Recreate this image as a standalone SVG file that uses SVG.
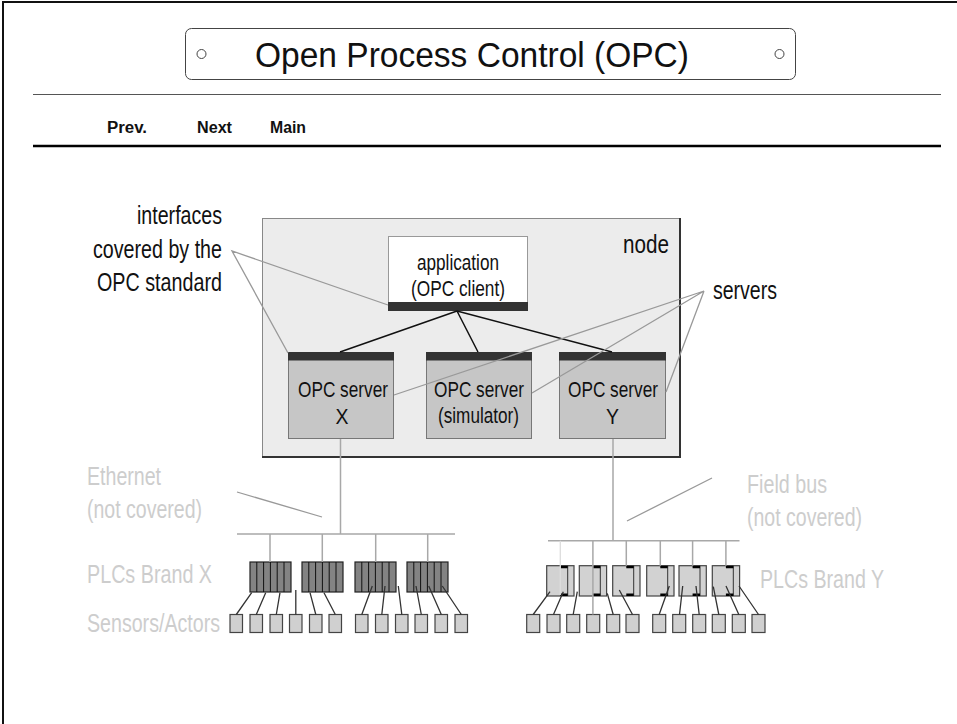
<svg xmlns="http://www.w3.org/2000/svg" width="957" height="724" viewBox="0 0 957 724">
<style>
text{font-family:"Liberation Sans",Arial,sans-serif}
.lbl{font-size:26px;fill:#111}
.lt{font-size:26px;fill:#cdcdcd}
.box{font-size:22px;fill:#111}
.nav{font-size:16px;font-weight:bold;fill:#111}
.ptr{stroke:#999;stroke-width:1.3;fill:none}
.wire{stroke:#111;stroke-width:1.5;fill:none}
.bus{stroke:#a8a8a8;stroke-width:1.5;fill:none}
.sl{stroke:#333;stroke-width:1.3;fill:none}
.sen{fill:#d0d0d0;stroke:#444;stroke-width:1.2}
.plcx{fill:#838383;stroke:#222;stroke-width:1.2}
.plcy{fill:#d2d2d2;stroke:#444;stroke-width:1.2}
.srv{fill:#c6c6c6;stroke:#777;stroke-width:1}
.bar{fill:#333}
</style>
<rect width="957" height="724" fill="#fff"/>
<g id="frame">
<line x1="3" y1="2" x2="957" y2="2" stroke="#111" stroke-width="2"/>
<line x1="3" y1="1" x2="3" y2="724" stroke="#111" stroke-width="2"/>
</g>
<g id="title">
<rect x="185.5" y="28.5" width="610" height="51" rx="6" fill="#fff" stroke="#444" stroke-width="1"/>
<circle cx="201.5" cy="54" r="4.5" fill="#fff" stroke="#444" stroke-width="1"/>
<circle cx="779.5" cy="54" r="4.5" fill="#fff" stroke="#444" stroke-width="1"/>
<text x="472" y="67" font-size="35" text-anchor="middle" fill="#111" textLength="434" lengthAdjust="spacingAndGlyphs">Open Process Control (OPC)</text>
</g>
<g id="navbar">
<line x1="33" y1="94.5" x2="941" y2="94.5" stroke="#555" stroke-width="1"/>
<line x1="33" y1="146" x2="941" y2="146" stroke="#000" stroke-width="2.5"/>
<text class="nav" x="107" y="133" font-size="17" textLength="40" lengthAdjust="spacingAndGlyphs">Prev.</text>
<text class="nav" x="197" y="133" font-size="17" textLength="35" lengthAdjust="spacingAndGlyphs">Next</text>
<text class="nav" x="270" y="133" font-size="17" textLength="36" lengthAdjust="spacingAndGlyphs">Main</text>
</g>
<g id="node">
<rect x="262.5" y="218.5" width="417" height="238" fill="#ececec" stroke="#888" stroke-width="1"/>
<polyline points="680,218 680,457 262,457" fill="none" stroke="#333" stroke-width="2"/>
<text class="lbl" x="623" y="253" font-size="28" textLength="46" lengthAdjust="spacingAndGlyphs">node</text>
</g>
<g id="application">
<rect x="388.5" y="236.5" width="139" height="74" fill="#fff" stroke="#999" stroke-width="1"/>
<rect class="bar" x="388" y="302" width="140" height="9"/>
<text class="box" x="458" y="270" text-anchor="middle" textLength="82" lengthAdjust="spacingAndGlyphs">application</text>
<text class="box" x="458" y="296" text-anchor="middle" textLength="94" lengthAdjust="spacingAndGlyphs">(OPC client)</text>
</g>
<g id="server-x">
<rect class="srv" x="288.5" y="352.5" width="105" height="86"/>
<rect class="bar" x="288" y="352" width="106" height="8.5"/>
<text class="box" x="343" y="397" text-anchor="middle" textLength="90" lengthAdjust="spacingAndGlyphs">OPC server</text>
<text class="box" x="342" y="424" text-anchor="middle" textLength="13" lengthAdjust="spacingAndGlyphs">X</text>
</g>
<g id="server-sim">
<rect class="srv" x="426.5" y="352.5" width="105" height="86"/>
<rect class="bar" x="426" y="352" width="106" height="8.5"/>
<text class="box" x="479" y="397" text-anchor="middle" textLength="90" lengthAdjust="spacingAndGlyphs">OPC server</text>
<text class="box" x="478.5" y="423" text-anchor="middle" textLength="81" lengthAdjust="spacingAndGlyphs">(simulator)</text>
</g>
<g id="server-y">
<rect class="srv" x="559.5" y="352.5" width="106" height="86"/>
<rect class="bar" x="559" y="352" width="107" height="8.5"/>
<text class="box" x="613" y="397" text-anchor="middle" textLength="90" lengthAdjust="spacingAndGlyphs">OPC server</text>
<text class="box" x="612.5" y="424" text-anchor="middle" textLength="13" lengthAdjust="spacingAndGlyphs">Y</text>
</g>
<g id="labels">
<text class="lbl" x="222" y="224" text-anchor="end" textLength="85" lengthAdjust="spacingAndGlyphs">interfaces</text>
<text class="lbl" x="222" y="258" text-anchor="end" textLength="129" lengthAdjust="spacingAndGlyphs">covered by the</text>
<text class="lbl" x="222" y="291" text-anchor="end" textLength="125" lengthAdjust="spacingAndGlyphs">OPC standard</text>
<text class="lbl" x="713" y="299" textLength="64" lengthAdjust="spacingAndGlyphs">servers</text>
<text class="lt" x="87" y="485" textLength="74" lengthAdjust="spacingAndGlyphs">Ethernet</text>
<text class="lt" x="87" y="518" textLength="115" lengthAdjust="spacingAndGlyphs">(not covered)</text>
<text class="lt" x="747" y="493" textLength="80" lengthAdjust="spacingAndGlyphs">Field bus</text>
<text class="lt" x="747" y="526" textLength="115" lengthAdjust="spacingAndGlyphs">(not covered)</text>
<text class="lt" x="87" y="583" font-size="28" textLength="125" lengthAdjust="spacingAndGlyphs">PLCs Brand X</text>
<text class="lt" x="760" y="588" font-size="28" textLength="124" lengthAdjust="spacingAndGlyphs">PLCs Brand Y</text>
<text class="lt" x="87" y="632" textLength="133" lengthAdjust="spacingAndGlyphs">Sensors/Actors</text>
</g>
<g id="plcs-x">
<g class="plcx">
<rect x="250" y="562" width="41" height="30"/>
<rect x="302" y="562" width="41" height="30"/>
<rect x="355" y="562" width="41" height="30"/>
<rect x="407" y="562" width="41" height="30"/>
</g>
<path stroke="#111" stroke-width="1" d="M256.8 562v30M263.6 562v30M270.4 562v30M277.2 562v30M284 562v30M308.8 562v30M315.6 562v30M322.4 562v30M329.2 562v30M336 562v30M361.8 562v30M368.6 562v30M375.4 562v30M382.2 562v30M389 562v30M413.8 562v30M420.6 562v30M427.4 562v30M434.2 562v30M441 562v30"/>
</g>
<g id="plcs-y">
<g class="plcy">
<rect x="546.7" y="565.7" width="27.3" height="30.3"/>
<rect x="579.3" y="565.7" width="27.3" height="30.3"/>
<rect x="612.7" y="565.7" width="27.3" height="30.3"/>
<rect x="646.7" y="565.7" width="27.3" height="30.3"/>
<rect x="679" y="565.7" width="27.3" height="30.3"/>
<rect x="712.3" y="565.7" width="27.3" height="30.3"/>
</g>
<path fill="none" stroke="#333" stroke-width="1" d="M567.7 565.7v30.3M600.3 565.7v30.3M633.7 565.7v30.3M667.7 565.7v30.3M700 565.7v30.3M733.3 565.7v30.3"/>
<path fill="none" stroke="#000" stroke-width="2.5" d="M560.3 567h7.4M560.3 594.7h7.4M592.9 567h7.4M592.9 594.7h7.4M626.3 567h7.4M626.3 594.7h7.4M660.3 567h7.4M660.3 594.7h7.4M692.6 567h7.4M692.6 594.7h7.4M725.9 567h7.4M725.9 594.7h7.4"/>
</g>
<g id="sensors-x" class="sen">
<rect x="230" y="614.5" width="12.5" height="18"/>
<rect x="250" y="614.5" width="12.5" height="18"/>
<rect x="270" y="614.5" width="12.5" height="18"/>
<rect x="289.5" y="614.5" width="12.5" height="18"/>
<rect x="309.5" y="614.5" width="12.5" height="18"/>
<rect x="329" y="614.5" width="12.5" height="18"/>
<rect x="355.5" y="614.5" width="12.5" height="18"/>
<rect x="375.5" y="614.5" width="12.5" height="18"/>
<rect x="395.5" y="614.5" width="12.5" height="18"/>
<rect x="415" y="614.5" width="12.5" height="18"/>
<rect x="435" y="614.5" width="12.5" height="18"/>
<rect x="455" y="614.5" width="12.5" height="18"/>
</g>
<g id="sensors-y" class="sen">
<rect x="526.7" y="614.5" width="13" height="18"/>
<rect x="547" y="614.5" width="13" height="18"/>
<rect x="566.7" y="614.5" width="13" height="18"/>
<rect x="586.7" y="614.5" width="13" height="18"/>
<rect x="606.7" y="614.5" width="13" height="18"/>
<rect x="626" y="614.5" width="13" height="18"/>
<rect x="652.7" y="614.5" width="13" height="18"/>
<rect x="672.7" y="614.5" width="13" height="18"/>
<rect x="692.7" y="614.5" width="13" height="18"/>
<rect x="712.3" y="614.5" width="13" height="18"/>
<rect x="732.3" y="614.5" width="13" height="18"/>
<rect x="752" y="614.5" width="13" height="18"/>
</g>
<g id="connectors">
<path class="wire" d="M457 311L340 352M457 311L478 352M457 311L612 352"/>
<path class="ptr" d="M388 305L232 251L288 353M394 395L704 291L532 393M704 291L666 392"/>
<path class="ptr" stroke="#7a7a7a" stroke-width="1.6" d="M237 492L322 517M627 521L712 478"/>
<path class="bus" d="M340.5 439V534M237 534H455M270 534V562M322.3 534V562M375.7 534V562M427.7 534V562"/>
<path class="bus" d="M613 439V540.7M548 540.7H739.5M592.9 540.7V614.5M626.3 540.7V565.7M660.3 540.7V565.7M692.6 540.7V565.7M725.9 540.7V565.7"/>
<path stroke="#ddd" stroke-width="1.3" d="M560.3 540.7V595"/>
<path class="sl" d="M251.7 592.7L236.3 614.5M265.7 592.7L256.3 614.5M280 592.7L276.3 614.5M295.8 590L295.8 614.5M310 592.7L315.8 614.5M324 592.7L335.3 614.5M372.3 586L361.8 614.5M385 586L381.8 614.5M398.3 586L401.8 614.5M416 586L421.3 614.5M428.7 586L441.3 614.5M442.3 586L461.3 614.5"/>
<path class="sl" d="M550 591.7L533.2 614.5M563.3 591.7L553.5 614.5M577.3 591.7L573.2 614.5M607.3 593.3L613.2 614.5M619.3 590L632.5 614.5M669.3 586L659.2 614.5M682.7 586L679.5 614.5M696 586L699.2 614.5M713.3 586.7L718.8 614.5M726 586L738.8 614.5M739 586L758.5 614.5"/>
</g>
</svg>
